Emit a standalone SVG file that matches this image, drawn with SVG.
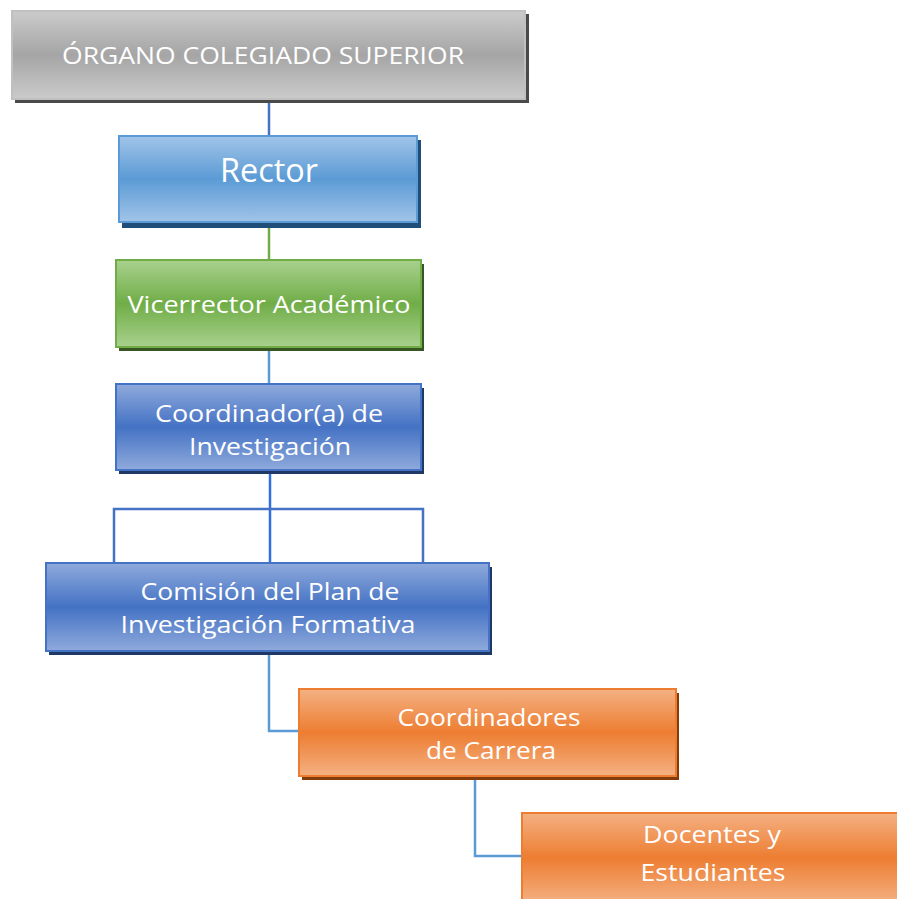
<svg xmlns="http://www.w3.org/2000/svg" width="897" height="899" viewBox="0 0 897 899">
<defs>
<linearGradient id="gGray" x1="0" y1="0" x2="0" y2="1"><stop offset="0" stop-color="#cbcbcb"/><stop offset="0.5" stop-color="#a5a5a5"/><stop offset="1" stop-color="#cbcbcb"/></linearGradient>
<linearGradient id="gSky" x1="0" y1="0" x2="0" y2="1"><stop offset="0" stop-color="#a1c4e8"/><stop offset="0.5" stop-color="#5b9bd5"/><stop offset="1" stop-color="#a1c4e8"/></linearGradient>
<linearGradient id="gGreen" x1="0" y1="0" x2="0" y2="1"><stop offset="0" stop-color="#a9d18e"/><stop offset="0.5" stop-color="#70ad47"/><stop offset="1" stop-color="#a9d18e"/></linearGradient>
<linearGradient id="gBlue" x1="0" y1="0" x2="0" y2="1"><stop offset="0" stop-color="#8faadc"/><stop offset="0.5" stop-color="#4472c4"/><stop offset="1" stop-color="#8faadc"/></linearGradient>
<linearGradient id="gOrange" x1="0" y1="0" x2="0" y2="1"><stop offset="0" stop-color="#f4b183"/><stop offset="0.5" stop-color="#ed7d31"/><stop offset="1" stop-color="#f4b183"/></linearGradient>
</defs>
<style>
text{font-family:"Open Sans","Noto Sans","DejaVu Sans",sans-serif;fill:#ffffff;text-anchor:middle}
.conn{fill:none;stroke-width:2.5}
</style>
<rect width="897" height="899" fill="#ffffff"/>
<g id="connectors">
<line class="conn" x1="269" y1="99" x2="269" y2="136" stroke="#4472c4"/>
<line class="conn" x1="269" y1="222" x2="269" y2="260" stroke="#70ad47"/>
<line class="conn" x1="269" y1="347" x2="269" y2="384" stroke="#5b9bd5"/>
<line class="conn" x1="270" y1="470" x2="270" y2="563" stroke="#2f6fe0"/>
<polyline class="conn" points="114,563 114,509 423,509 423,563" stroke="#4472c4"/>
<polyline class="conn" points="269,651 269,731 299,731" stroke="#5b9bd5"/>
<polyline class="conn" points="475,776 475,856 522,856" stroke="#5b9bd5"/>
</g>
<g id="n1">
<rect x="15" y="14" width="514" height="89" fill="#4a4a4a"/>
<rect x="12" y="11" width="513" height="88" fill="url(#gGray)" stroke="#c0c0c0" stroke-width="2"/>
<text x="263" y="64" font-size="23" textLength="402" lengthAdjust="spacingAndGlyphs">ÓRGANO COLEGIADO SUPERIOR</text>
</g>
<g id="n2">
<rect x="122" y="140" width="299" height="88" fill="#1f4e79"/>
<rect x="119" y="136" width="298" height="86" fill="url(#gSky)" stroke="#5b9bd5" stroke-width="2"/>
<text x="269" y="182" font-size="32" textLength="98" lengthAdjust="spacingAndGlyphs">Rector</text>
</g>
<g id="n3">
<rect x="119" y="264" width="305" height="87" fill="#375623"/>
<rect x="116" y="260" width="305" height="87" fill="url(#gGreen)" stroke="#70ad47" stroke-width="2"/>
<text x="269" y="313" font-size="23" textLength="283" lengthAdjust="spacingAndGlyphs">Vicerrector Académico</text>
</g>
<g id="n4">
<rect x="119" y="388" width="305" height="86" fill="#1f3864"/>
<rect x="116" y="384" width="305" height="86" fill="url(#gBlue)" stroke="#4472c4" stroke-width="2"/>
<text x="269" y="422" font-size="23" textLength="228" lengthAdjust="spacingAndGlyphs">Coordinador(a) de</text>
<text x="270" y="455" font-size="23" textLength="162" lengthAdjust="spacingAndGlyphs">Investigación</text>
</g>
<g id="n5">
<rect x="49" y="567" width="443" height="88" fill="#1f3864"/>
<rect x="46" y="563" width="443" height="88" fill="url(#gBlue)" stroke="#4472c4" stroke-width="2"/>
<text x="270" y="600" font-size="23" textLength="259" lengthAdjust="spacingAndGlyphs">Comisión del Plan de</text>
<text x="268" y="633" font-size="23" textLength="295" lengthAdjust="spacingAndGlyphs">Investigación Formativa</text>
</g>
<g id="n6">
<rect x="302" y="693" width="377" height="87" fill="#843c0c"/>
<rect x="299" y="689" width="377" height="87" fill="url(#gOrange)" stroke="#ed7d31" stroke-width="2"/>
<text x="489" y="726" font-size="23" textLength="183" lengthAdjust="spacingAndGlyphs">Coordinadores</text>
<text x="491" y="759" font-size="23" textLength="130" lengthAdjust="spacingAndGlyphs">de Carrera</text>
</g>
<g id="n7">
<rect x="522" y="813" width="378" height="90" fill="url(#gOrange)" stroke="#ed7d31" stroke-width="2"/>
<text x="712" y="843" font-size="24" textLength="138" lengthAdjust="spacingAndGlyphs">Docentes y</text>
<text x="713" y="881" font-size="24" textLength="145" lengthAdjust="spacingAndGlyphs">Estudiantes</text>
</g>
</svg>
